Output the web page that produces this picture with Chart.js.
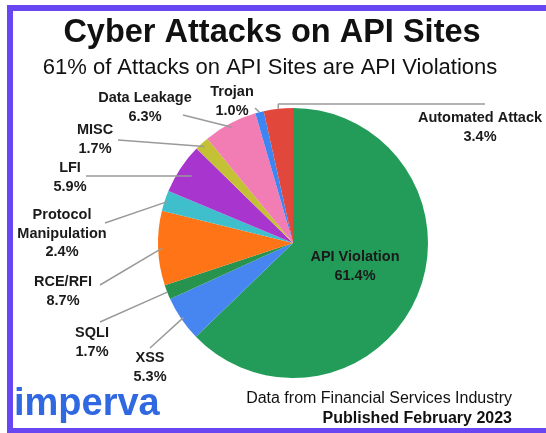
<!DOCTYPE html>
<html>
<head>
<meta charset="utf-8">
<script src="https://cdn.jsdelivr.net/npm/chart.js@4"></script>
<style>
html,body{margin:0;padding:0;background:#fff;overflow:hidden;}
canvas{display:block;}
</style>
</head>
<body>
<canvas id="c" width="546" height="433"></canvas>
<script>
const title = 'Cyber Attacks on API Sites';
const subtitle = '61% of Attacks on API Sites are API Violations';
const categories = ['API Violation','XSS','SQLI','RCE/RFI','Protocol Manipulation','LFI','MISC','Data Leakage','Trojan','Automated Attack'];
const values = [61.4, 5.3, 1.7, 8.7, 2.4, 5.9, 1.7, 6.3, 1.0, 3.4];
const labelLines = [['API Violation'],['XSS'],['SQLI'],['RCE/RFI'],['Protocol','Manipulation'],['LFI'],['MISC'],['Data Leakage'],['Trojan'],['Automated Attack']];
const footer1 = 'Data from Financial Services Industry';
const footer2 = 'Published February 2023';
const brand = 'imperva';

const colors = ['#239c5a','#4785f0','#27934f','#ff7416','#3fbfcc','#a935cf','#c4c134','#f27db5','#3d85f2','#e2473b'];

const labelLayout = [
  {x:355, y:257, inside:true},
  {x:150, y:358, line:[[150,348]], k:0.98},
  {x:92, y:333, line:[[100,322]], k:1.0},
  {x:63, y:282, line:[[100,285]], k:0.97},
  {x:62, y:215, line:[[105,223]], k:0.98},
  {x:70, y:168, line:[[86,176]], k:0.9},
  {x:95, y:130, line:[[118,140]], k:0.97},
  {x:145, y:98, line:[[183,115]], k:0.97},
  {x:232, y:92, line:[[255,108]], k:1.0},
  {x:480, y:118, line:[[485,104],[278,104]], k:1.0, vert:true}
];

const framePlugin = {
  id: 'frame',
  beforeDraw(chart) {
    const ctx = chart.ctx;
    ctx.save();
    ctx.fillStyle = '#ffffff';
    ctx.fillRect(0, 0, chart.width, chart.height);
    ctx.fillStyle = '#6847f3';
    ctx.fillRect(7, 5, chart.width - 7, 6);
    ctx.fillRect(7, 5, 6, chart.height - 5);
    ctx.fillRect(7, chart.height - 5, chart.width - 7, 5);
    ctx.restore();
  }
};

const labelPlugin = {
  id: 'labels',
  afterDraw(chart) {
    const ctx = chart.ctx;
    ctx.save();
    ctx.fillStyle = '#111';
    ctx.textAlign = 'center';
    ctx.textBaseline = 'middle';
    ctx.font = 'bold 32.5px "Liberation Sans", Arial, sans-serif';
    ctx.fillText(title, 272, 33);
    ctx.font = '22px "Liberation Sans", Arial, sans-serif';
    ctx.fillText(subtitle, 270, 68);

    const meta = chart.getDatasetMeta(0);
    meta.data.forEach((arc, i) => {
      const p = arc.getProps(['x','y','startAngle','endAngle','outerRadius']);
      const mid = (p.startAngle + p.endAngle) / 2;
      const L = labelLayout[i];
      const lines = labelLines[i].slice();
      lines.push(values[i].toFixed(1) + '%');
      if (!L.inside) {
        const ax = p.x + Math.cos(mid) * p.outerRadius * L.k;
        const ay = p.y + Math.sin(mid) * p.outerRadius * L.k;
        ctx.strokeStyle = '#9a9a9a';
        ctx.lineWidth = 1.5;
        ctx.beginPath();
        ctx.moveTo(L.line[0][0], L.line[0][1]);
        for (let j = 1; j < L.line.length; j++) ctx.lineTo(L.line[j][0], L.line[j][1]);
        if (L.vert) { ctx.lineTo(ax, L.line[L.line.length-1][1]); ctx.lineTo(ax, ay); }
        else ctx.lineTo(ax, ay);
        ctx.stroke();
      }
      ctx.fillStyle = '#1a1a1a';
      ctx.font = 'bold 14.5px "Liberation Sans", Arial, sans-serif';
      ctx.textAlign = 'center';
      const lh = L.inside ? 19 : 18.5;
      lines.forEach((t, j) => ctx.fillText(t, L.x, L.y + j * lh));
    });

    ctx.fillStyle = '#111';
    ctx.textAlign = 'right';
    ctx.font = '16px "Liberation Sans", Arial, sans-serif';
    ctx.fillText(footer1, 512, 399);
    ctx.font = 'bold 16px "Liberation Sans", Arial, sans-serif';
    ctx.fillText(footer2, 512, 419);

    ctx.textAlign = 'left';
    ctx.fillStyle = '#2f68e0';
    ctx.font = 'bold 38px "Liberation Sans", Arial, sans-serif';
    ctx.fillText(brand, 14, 405);
    ctx.restore();
  }
};

new Chart(document.getElementById('c'), {
  type: 'pie',
  data: {
    labels: categories,
    datasets: [{
      data: values,
      backgroundColor: colors,
      borderWidth: 0
    }]
  },
  options: {
    responsive: false,
    animation: false,
    layout: { padding: { top: 108, bottom: 55, left: 158, right: 118 } },
    plugins: { legend: { display: false }, tooltip: { enabled: false } }
  },
  plugins: [framePlugin, labelPlugin]
});
</script>
</body>
</html>
